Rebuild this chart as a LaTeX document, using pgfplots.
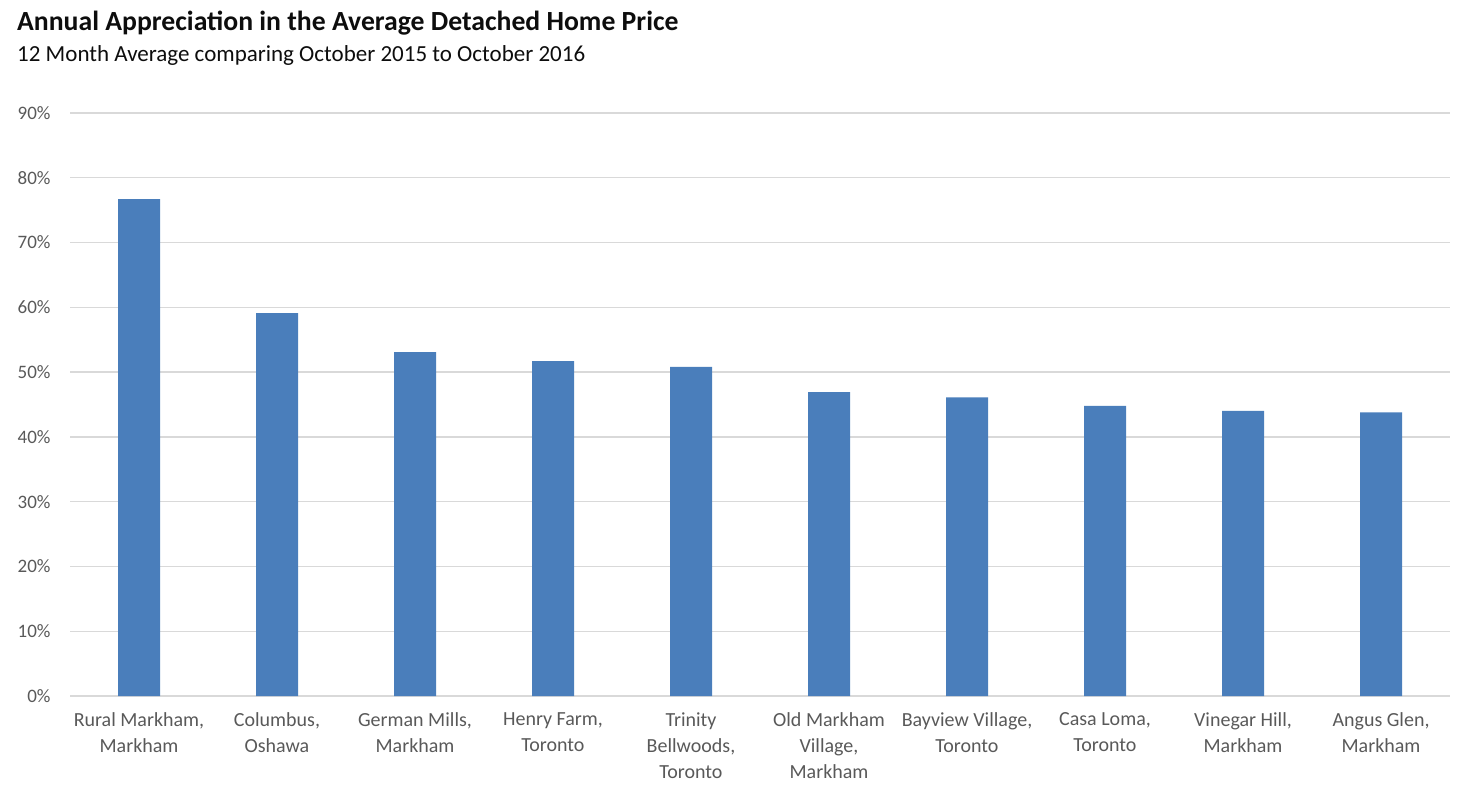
\documentclass[border=0pt]{standalone}
\usepackage{pgfplots}
\pgfplotsset{compat=1.18}
\usepackage{fontspec}
\setmainfont{Carlito}
\definecolor{barblue}{RGB}{74,126,187}
\definecolor{gridgray}{RGB}{217,217,217}
\definecolor{labelgray}{RGB}{89,89,89}
\definecolor{titlecol}{RGB}{13,13,13}
\begin{document}
\begin{tikzpicture}[x=1pt,y=1pt]
\useasboundingbox (0,0) rectangle (1470,796);
% title and subtitle
\node[anchor=base west, inner sep=0pt, text=titlecol,
      font=\fontsize{27.7}{32}\selectfont\bfseries] at (17,765)
  {Annual Appreciation in the Average Detached Home Price};
\node[anchor=base west, inner sep=0pt, text=titlecol,
      font=\fontsize{23}{26}\selectfont] at (17,734)
  {12 Month Average comparing October 2015 to October 2016};

\begin{axis}[
    at={(70pt,100pt)}, anchor=south west,
    scale only axis,
    width=1380pt, height=583pt,
    xmin=-0.5, xmax=9.5,
    ymin=0, ymax=90,
    ybar, bar width=42pt,
    ytick={0,10,...,90},
    yticklabel={\pgfmathprintnumber{\tick}\%},
    /pgf/number format/assume math mode=true,
    xtick=data,
    xticklabels={{Rural Markham,\\Markham},{Columbus,\\Oshawa},{German Mills,\\Markham},
      {Henry Farm,\\Toronto},{Trinity\\Bellwoods,\\Toronto},{Old Markham\\Village,\\Markham},
      {Bayview Village,\\Toronto},{Casa Loma,\\Toronto},{Vinegar Hill,\\Markham},
      {Angus Glen,\\Markham}},
    major tick length=0pt,
    ymajorgrids,
    grid style={gridgray, line width=1.3pt},
    axis x line*=bottom,
    axis y line*=left,
    y axis line style={draw=none},
    x axis line style={gridgray, line width=1.3pt, -},
    ticklabel style={text=labelgray, font=\fontsize{20}{26}\selectfont},
    xticklabel style={align=center, anchor=north, yshift=-13pt},
    yticklabel style={anchor=east, xshift=-16pt, font=\fontsize{19}{24}\selectfont},
    clip=false,
  ]
  \addplot[fill=barblue, draw=none] coordinates {
    (0,76.7) (1,59.1) (2,53.1) (3,51.7) (4,50.8)
    (5,46.9) (6,46.1) (7,44.8) (8,44.0) (9,43.8)};
\end{axis}
\end{tikzpicture}
\end{document}
